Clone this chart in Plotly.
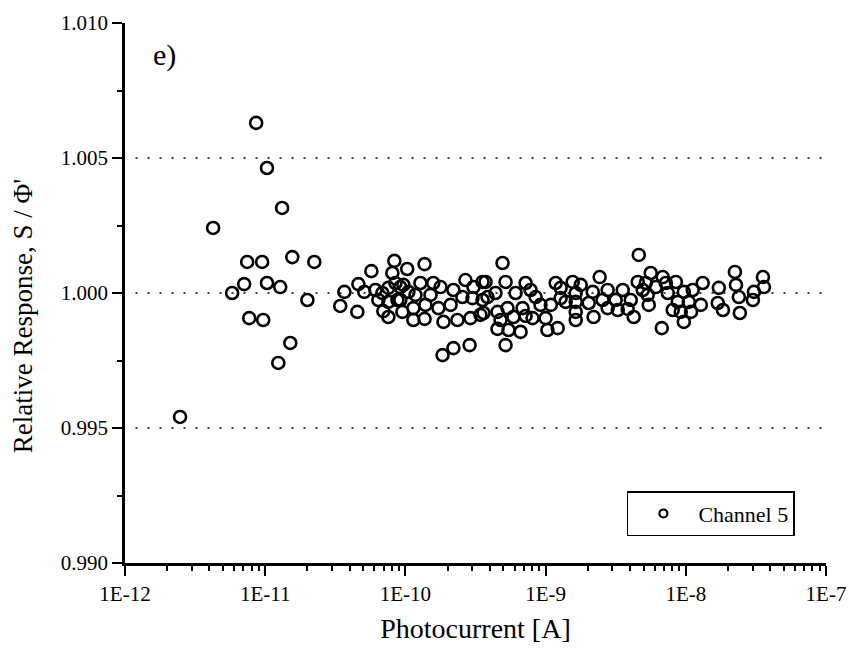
import plotly.graph_objects as go

# Photocurrent [A]
photocurrent = [
    2.47e-12, 4.25e-12, 5.81e-12, 7.08e-12, 7.44e-12, 7.69e-12, 8.62e-12, 9.51e-12, 9.68e-12,
    1.03e-11, 1.03e-11, 1.28e-11, 1.32e-11, 1.24e-11, 1.56e-11, 1.51e-11, 2.0e-11, 2.24e-11,
    3.67e-11, 3.43e-11, 4.54e-11, 4.62e-11, 5.09e-11, 5.72e-11, 6.11e-11, 6.41e-11, 6.85e-11,
    6.96e-11, 7.56e-11, 7.56e-11, 7.56e-11, 8.07e-11, 8.34e-11, 8.49e-11, 8.77e-11, 9.2e-11,
    9.52e-11, 9.68e-11, 9.2e-11,
    1.03e-10, 1.05e-10, 1.14e-10, 1.14e-10, 1.18e-10, 1.28e-10, 1.37e-10, 1.37e-10, 1.39e-10,
    1.51e-10, 1.58e-10, 1.72e-10, 1.78e-10, 1.84e-10, 1.87e-10, 2.1e-10, 2.2e-10, 2.2e-10,
    2.35e-10, 2.55e-10, 2.68e-10, 2.87e-10, 2.91e-10, 3.01e-10, 3.06e-10, 3.43e-10, 3.55e-10,
    3.55e-10, 3.61e-10, 3.73e-10, 3.85e-10, 4.39e-10, 4.54e-10, 4.54e-10, 4.77e-10, 4.93e-10,
    5.18e-10, 5.18e-10, 5.35e-10, 5.44e-10, 5.9e-10, 6.11e-10, 6.63e-10, 6.85e-10, 7.2e-10,
    7.2e-10, 7.81e-10, 8.07e-10, 8.49e-10, 9.2e-10, 1.0e-9,
    1.03e-9, 1.09e-9, 1.18e-9, 1.22e-9, 1.28e-9, 1.28e-9, 1.39e-9, 1.56e-9, 1.64e-9,
    1.64e-9, 1.64e-9, 1.64e-9, 1.78e-9, 2.03e-9, 2.17e-9, 2.2e-9, 2.43e-9, 2.55e-9, 2.77e-9,
    2.77e-9, 3.16e-9, 3.27e-9, 3.55e-9, 3.85e-9, 4.05e-9, 4.25e-9, 4.54e-9, 4.62e-9, 4.93e-9,
    5.18e-9, 5.35e-9, 5.44e-9, 5.62e-9, 6.11e-9, 6.74e-9, 6.85e-9, 7.2e-9, 7.44e-9, 8.07e-9,
    8.49e-9, 8.77e-9, 9.2e-9, 9.68e-9, 9.68e-9,
    1.05e-8, 1.09e-8, 1.12e-8, 1.28e-8, 1.32e-8, 1.69e-8, 1.72e-8, 1.84e-8, 2.24e-8, 2.28e-8,
    2.39e-8, 2.43e-8, 3.01e-8, 3.06e-8, 3.55e-8, 3.61e-8,
]

# Relative response S / Phi'
relative_response = [
    0.99541, 1.00241, 1.00000, 1.00033, 1.00115, 0.99907, 1.00630, 1.00115, 0.99900,
    1.00463, 1.00037, 1.00022, 1.00315, 0.99741, 1.00133, 0.99815, 0.99974, 1.00115,
    1.00004, 0.99952, 0.99930, 1.00033, 1.00004, 1.00081, 1.00011, 0.99974, 1.00000,
    0.99933, 1.00019, 0.99967, 0.99911, 1.00074, 1.00119, 1.00037, 0.99974, 1.00022,
    0.99930, 1.00030, 0.99974,
    1.00089, 1.00004, 0.99944, 0.99900, 0.99993, 1.00037, 1.00107, 0.99904, 0.99956,
    0.99993, 1.00037, 0.99944, 1.00022, 0.99770, 0.99893, 0.99956, 1.00011, 0.99796,
    0.99900, 0.99985, 1.00048, 0.99807, 0.99907, 0.99981, 1.00022, 0.99919, 1.00041,
    0.99974, 0.99926, 1.00041, 0.99985, 1.00000, 0.99930, 0.99867, 0.99900, 1.00111,
    1.00041, 0.99807, 0.99944, 0.99863, 0.99911, 1.00000, 0.99856, 0.99944, 1.00037,
    0.99915, 1.00011, 0.99907, 0.99985, 0.99956, 0.99907,
    0.99863, 0.99956, 1.00037, 0.99870, 0.99981, 1.00019, 0.99967, 1.00041, 1.00000,
    0.99967, 0.99930, 0.99900, 1.00030, 0.99963, 1.00004, 0.99911, 1.00059, 0.99974, 1.00011,
    0.99944, 0.99974, 0.99937, 1.00011, 0.99941, 0.99974, 0.99911, 1.00041, 1.00141, 1.00011,
    1.00037, 0.99993, 0.99956, 1.00074, 1.00022, 0.99870, 1.00059, 1.00037, 1.00000, 0.99937,
    1.00041, 0.99967, 0.99930, 1.00004, 0.99893,
    0.99967, 0.99930, 1.00011, 0.99956, 1.00037, 0.99963, 1.00019, 0.99937, 1.00078, 1.00030,
    0.99985, 0.99926, 0.99974, 1.00004, 1.00059, 1.00022,
]

series_name = "Channel 5"
x_title = "Photocurrent [A]"
y_title = "Relative Response, S / Φ'"
panel_label = "e)"
x_tick_values = [1e-12, 1e-11, 1e-10, 1e-9, 1e-8, 1e-7]
x_tick_labels = ["1E-12", "1E-11", "1E-10", "1E-9", "1E-8", "1E-7"]
y_tick_values = [0.990, 0.995, 1.000, 1.005, 1.010]
grid_levels = [0.995, 1.000, 1.005]

FONT = "Liberation Serif"

x_minor = [m * t for t in x_tick_values[:-1] for m in range(2, 10)]

fig = go.Figure()
fig.add_trace(go.Scatter(
    x=photocurrent, y=relative_response, mode="markers", name=series_name,
    showlegend=False,
    marker=dict(symbol="circle-open", size=12, color="black", line=dict(width=2.6, color="black")),
))
# legend entry (smaller symbol as in the original key)
fig.add_trace(go.Scatter(
    x=[None], y=[None], mode="markers", name=series_name,
    marker=dict(symbol="circle-open", size=8, color="black", line=dict(width=2.2, color="black")),
))

for g in grid_levels:
    fig.add_shape(type="line", xref="paper", x0=0.015, x1=1.0, yref="y", y0=g, y1=g,
                  line=dict(color="black", width=1.6, dash="2px,10px"), layer="below")

fig.update_layout(
    width=849, height=651,
    margin=dict(l=125, r=23, t=23, b=88),
    paper_bgcolor="white", plot_bgcolor="white",
    font=dict(family=FONT, color="black", size=20),
    showlegend=True,
    legend=dict(x=0.716, y=0.133, xanchor="left", yanchor="top",
                bordercolor="black", borderwidth=1.5, bgcolor="white",
                itemwidth=60, tracegroupgap=0,
                font=dict(family=FONT, size=22)),
    annotations=[
        dict(text=panel_label, xref="paper", yref="paper", x=0.057, y=0.941,
             xanchor="center", yanchor="middle", showarrow=False,
             font=dict(family=FONT, size=30, color="black")),
        dict(text=y_title, xref="paper", yref="paper", x=-0.1455, y=0.457,
             xanchor="center", yanchor="middle", showarrow=False, textangle=-90,
             font=dict(family=FONT, size=27, color="black")),
    ],
)

fig.update_xaxes(
    type="log", range=[-12, -7], automargin=False,
    tickvals=x_tick_values, ticktext=x_tick_labels,
    showline=True, linewidth=2.5, linecolor="black", mirror=False,
    ticks="outside", ticklen=10, tickwidth=2, tickcolor="black",
    showgrid=False, zeroline=False,
    tickfont=dict(family=FONT, size=21),
    minor=dict(tickvals=x_minor, ticks="outside", ticklen=5, tickwidth=1.5, tickcolor="black", showgrid=False),
    title=dict(text=x_title, font=dict(family=FONT, size=28), standoff=14),
)
fig.update_yaxes(
    range=[0.990, 1.010], automargin=False,
    tickvals=y_tick_values, tickformat=".3f",
    showline=True, linewidth=2.5, linecolor="black", mirror=False,
    ticks="outside", ticklen=10, tickwidth=2, tickcolor="black",
    showgrid=False, zeroline=False,
    tickfont=dict(family=FONT, size=21),
    minor=dict(dtick=0.0025, ticks="outside", ticklen=5, tickwidth=1.5, tickcolor="black", showgrid=False),
)

# remove the browser's default 8px body margin so the figure fills the window exactly
fig.write_html("out.html", config={"displayModeBar": False},
               post_script="document.body.style.margin='0';document.body.style.overflow='hidden';")
